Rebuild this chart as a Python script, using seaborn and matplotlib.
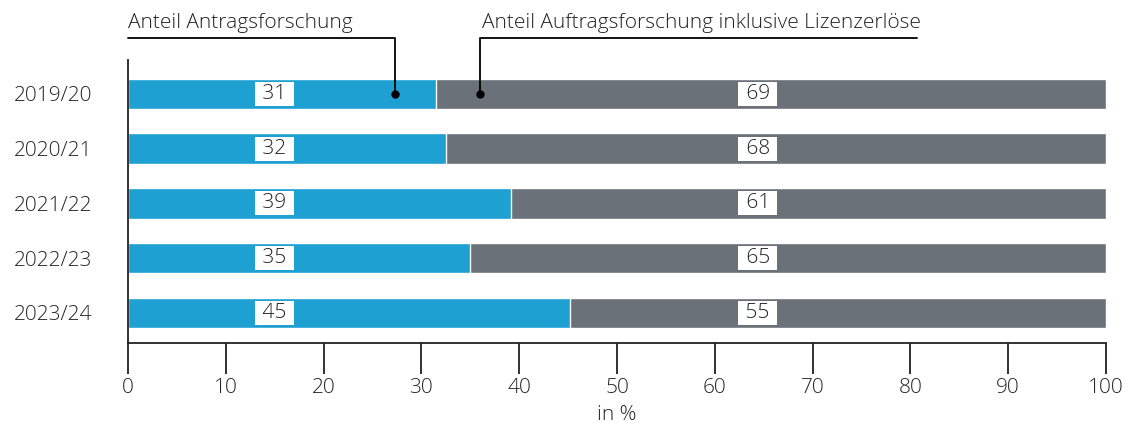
import matplotlib.pyplot as plt
import seaborn as sns
import pandas as pd

years = ['2019/20', '2020/21', '2021/22', '2022/23', '2023/24']
antrag = [31.5, 32.5, 39.2, 35.0, 45.2]
auftrag = [68.5, 67.5, 60.8, 65.0, 54.8]
antrag_labels = ['31', '32', '39', '35', '45']
auftrag_labels = ['69', '68', '61', '65', '55']

blue = '#1fa0d2'
grey = '#6a7178'

df = pd.DataFrame({'year': years, 'antrag': antrag,
                   'total': [a + b for a, b in zip(antrag, auftrag)]})

sns.set_style('white')
plt.rcParams['font.family'] = ['Open Sans', 'DejaVu Sans']
plt.rcParams['font.size'] = 15
plt.rcParams['font.weight'] = 'light'
plt.rcParams['axes.labelweight'] = 'light'

fig = plt.figure(figsize=(11.38, 4.26), dpi=100)
ax = fig.add_axes([128 / 1138, 1 - 343 / 426, (1106 - 128) / 1138, (343 - 60) / 426])

sns.barplot(data=df, y='year', x='total', color=grey, saturation=1,
            width=0.56, orient='h', ax=ax)
sns.barplot(data=df, y='year', x='antrag', color=blue, saturation=1,
            width=0.56, orient='h', ax=ax)

box = dict(boxstyle='square,pad=0.1', fc='white', ec='none')
for i in range(len(years)):
    ax.text(15, i, ' ' + antrag_labels[i] + ' ', ha='center', va='center',
            fontsize=15, color='#222222', bbox=box)
    ax.text(64.4, i, ' ' + auftrag_labels[i] + ' ', ha='center', va='center',
            fontsize=15, color='#222222', bbox=box)

ax.set_xlim(0, 100)
ax.set_ylim(4.55, -0.62)
ax.set_xticks(range(0, 101, 10))
ax.set_xlabel('in %', fontsize=15, labelpad=5)
ax.set_ylabel('')
for s in ['top', 'right']:
    ax.spines[s].set_visible(False)
for s in ['left', 'bottom']:
    ax.spines[s].set_color('#222222')
    ax.spines[s].set_linewidth(1.3)
ax.tick_params(axis='x', length=22, width=1.3, color='#222222',
               labelsize=15, pad=3, direction='out', bottom=True)
ax.tick_params(axis='y', length=0, labelsize=15, pad=26)

# callout lines
line_y = -1.03
ax.plot([0, 27.3, 27.3], [line_y, line_y, 0], color='black', lw=1.3, clip_on=False)
ax.plot(27.3, 0, 'o', color='black', ms=5, clip_on=False)
ax.text(0, line_y - 0.08, 'Anteil Antragsforschung', ha='left', va='bottom',
        fontsize=15, color='#222222')
ax.plot([36.0, 36.0, 80.7], [0, line_y, line_y], color='black', lw=1.3, clip_on=False)
ax.plot(36.0, 0, 'o', color='black', ms=5, clip_on=False)
ax.text(36.2, line_y - 0.08, 'Anteil Auftragsforschung inklusive Lizenzerlöse',
        ha='left', va='bottom', fontsize=15, color='#222222')

plt.savefig('out.png', dpi=100)
